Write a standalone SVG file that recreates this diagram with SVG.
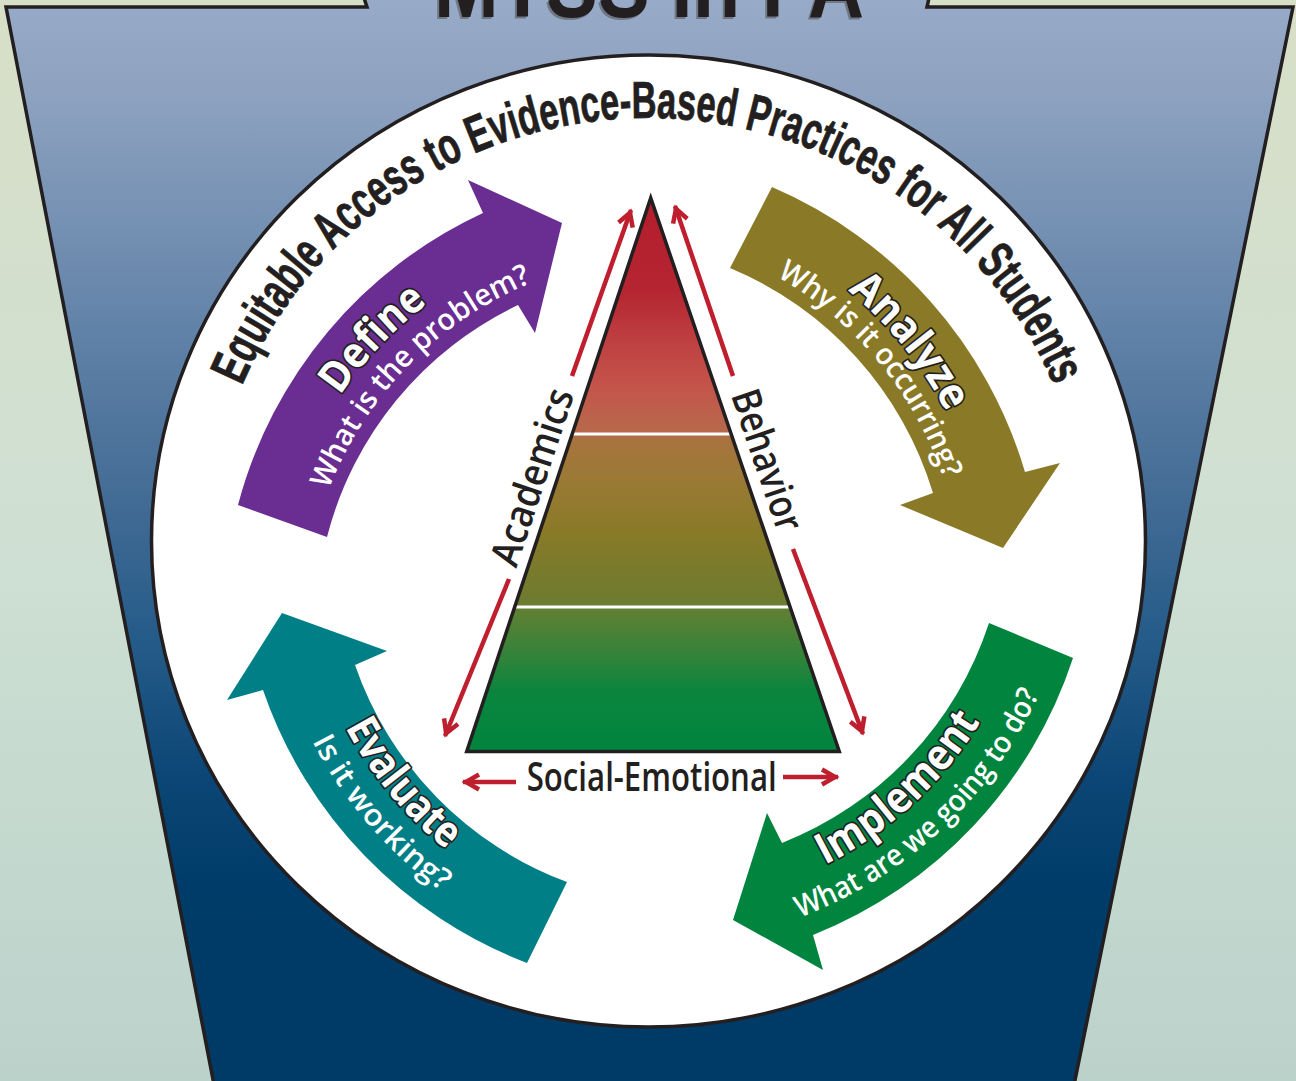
<svg xmlns="http://www.w3.org/2000/svg" width="1296" height="1081" viewBox="0 0 1296 1081">
<defs>
<linearGradient id="bg" x1="0" y1="0" x2="0" y2="1081" gradientUnits="userSpaceOnUse">
<stop offset="0" stop-color="#d8dfc7"/><stop offset="0.5" stop-color="#cfe0d3"/><stop offset="1" stop-color="#bbd2cb"/>
</linearGradient>
<linearGradient id="key" x1="0" y1="0" x2="0" y2="1081" gradientUnits="userSpaceOnUse">
<stop offset="0" stop-color="#97aac7"/><stop offset="0.08" stop-color="#8fa3c1"/><stop offset="0.3" stop-color="#6283a8"/><stop offset="0.45" stop-color="#456d96"/><stop offset="0.6" stop-color="#235a88"/><stop offset="0.72" stop-color="#0b4676"/><stop offset="0.82" stop-color="#003c69"/><stop offset="1" stop-color="#003a66"/>
</linearGradient>
<linearGradient id="pyr" x1="0" y1="197" x2="0" y2="751" gradientUnits="userSpaceOnUse">
<stop offset="0" stop-color="#b31d2c"/><stop offset="0.168" stop-color="#b52531"/><stop offset="0.258" stop-color="#be3f40"/><stop offset="0.348" stop-color="#c4564c"/><stop offset="0.424" stop-color="#b7694a"/><stop offset="0.439" stop-color="#a8733f"/><stop offset="0.51" stop-color="#9a7a35"/><stop offset="0.6" stop-color="#8a7a28"/><stop offset="0.727" stop-color="#6e7b2f"/><stop offset="0.749" stop-color="#5e8034"/><stop offset="0.836" stop-color="#2e833a"/><stop offset="0.89" stop-color="#0b853e"/><stop offset="1" stop-color="#00843e"/>
</linearGradient>
<marker id="chev" viewBox="0 0 22 18" refX="19" refY="9" markerWidth="22" markerHeight="18" markerUnits="userSpaceOnUse" orient="auto" overflow="visible">
<path d="M3,1.5 L16,9 L3,16.5" fill="none" stroke="#be1e2d" stroke-width="4.5"/>
</marker>
<path id="arcTitle" d="M206,560 A442,442 0 0 1 1090,560"/>
<path id="pDefT" d="M272.6,667.4 A401,401 0 0 1 695.5,221.75"/>
<path id="pDefS" d="M305.75,657.8 A367,367 0 0 1 699.2,256.1"/>
<path id="pAnaT" d="M600.9,199.1 A398,398 0 0 1 984.7,672.9"/>
<path id="pAnaS" d="M597.2,228 A369,369 0 0 1 956.8,664.2"/>
<path id="pEvaT" d="M307.5,476.3 A388,388 0 0 0 685.6,935"/>
<path id="pEvaS" d="M270.5,479.2 A424,424 0 0 0 694.9,971"/>
<path id="pImpT" d="M598,903.7 A389,389 0 0 0 1037.6,498.9"/>
<path id="pImpS" d="M596.7,941.8 A429,429 0 0 0 1077.4,493.5"/>
</defs>
<style>
.ttl{font-family:"Open Sans","Liberation Sans",sans-serif;font-weight:700;font-size:43px;fill:#fff;stroke:#231f20;stroke-width:3.5px;paint-order:stroke;stroke-linejoin:round}
.sub{font-family:"Open Sans","Liberation Sans",sans-serif;font-weight:600;font-size:30px;fill:#fff}
.lbl{font-family:"Open Sans","Liberation Sans",sans-serif;font-weight:600;font-size:40px;fill:#231f20}
.red{stroke:#be1e2d;stroke-width:4.5;fill:none;marker-end:url(#chev)}
.ol{stroke:#231f20;stroke-width:3.5}
</style>
<rect id="background" x="0" y="0" width="1296" height="1081" fill="url(#bg)"/>
<g id="keystone">
<path d="M358,-20 L367,7 L6,7 L216,1095 L1072,1095 L1293,7 L927,7 L933,-20 Z" fill="url(#key)" class="ol"/>
</g>
<g id="title">
<text x="647" y="19" text-anchor="middle" font-family="'Liberation Sans',sans-serif" font-weight="700" font-size="92" fill="#58595b" opacity="0.6" textLength="430" lengthAdjust="spacingAndGlyphs">MTSS in PA</text>
<text x="649" y="17" text-anchor="middle" font-family="'Liberation Sans',sans-serif" font-weight="700" font-size="92" fill="#231f20" textLength="430" lengthAdjust="spacingAndGlyphs">MTSS in PA</text>
</g>
<g id="circle">
<ellipse cx="648.5" cy="541" rx="497" ry="486" fill="#fff" class="ol"/>
</g>
<g id="arc-title">
<text font-family="'Liberation Sans',sans-serif" font-weight="700" font-size="52" fill="#231f20" stroke="#231f20" stroke-width="0.8"><textPath href="#arcTitle" startOffset="50%" text-anchor="middle" textLength="1030" lengthAdjust="spacingAndGlyphs">Equitable Access to Evidence-Based Practices for All Students</textPath></text>
</g>
<g id="define">
<path d="M238,505 A448,448 0 0 1 483,213 L468,180 L562,223 L535,333 L518,305 A355,355 0 0 0 327,537 Z" fill="#6a2d91"/>
<text class="ttl"><textPath href="#pDefT" startOffset="50%" text-anchor="middle" textLength="128" lengthAdjust="spacingAndGlyphs">Define</textPath></text>
<text class="sub"><textPath href="#pDefS" startOffset="50%" text-anchor="middle" textLength="298" lengthAdjust="spacingAndGlyphs">What is the problem?</textPath></text>
</g>
<g id="analyze">
<path d="M772,187 A448,448 0 0 1 1025,472 L1060,463 L1003,548 L900,505 L933,493 A355,355 0 0 0 730,268 Z" fill="#8a7a27"/>
<text class="ttl"><textPath href="#pAnaT" startOffset="50%" text-anchor="middle" textLength="158" lengthAdjust="spacingAndGlyphs">Analyze</textPath></text>
<text class="sub"><textPath href="#pAnaS" startOffset="50%" text-anchor="middle" textLength="268" lengthAdjust="spacingAndGlyphs">Why is it occurring?</textPath></text>
</g>
<g id="implement">
<path d="M1073,658 A448,448 0 0 1 813,935 L823,970 L733,920 L767,813 L782,843 A355,355 0 0 0 989,623 Z" fill="#00843e"/>
<text class="ttl"><textPath href="#pImpT" startOffset="50%" text-anchor="middle" textLength="214" lengthAdjust="spacingAndGlyphs">Implement</textPath></text>
<text class="sub"><textPath href="#pImpS" startOffset="50%" text-anchor="middle" textLength="336" lengthAdjust="spacingAndGlyphs">What are we going to do?</textPath></text>
</g>
<g id="evaluate">
<path d="M527,963 A448,448 0 0 1 263,690 L227,700 L282,613 L387,651 L355,665 A355,355 0 0 0 567,882 Z" fill="#007f87"/>
<text class="ttl"><textPath href="#pEvaT" startOffset="50%" text-anchor="middle" textLength="160" lengthAdjust="spacingAndGlyphs">Evaluate</textPath></text>
<text class="sub"><textPath href="#pEvaS" startOffset="50%" text-anchor="middle" textLength="200" lengthAdjust="spacingAndGlyphs">Is it working?</textPath></text>
</g>
<g id="pyramid">
<path d="M650.7,197.9 L839.3,751.4 L466.7,751.4 Z" fill="url(#pyr)"/>
<line x1="572" y1="434" x2="731" y2="434" stroke="#fff" stroke-width="3"/>
<line x1="515" y1="607" x2="790" y2="607" stroke="#fff" stroke-width="3"/>
<path d="M650.7,197.9 L839.3,751.4 L466.7,751.4 Z" fill="none" stroke="#231f20" stroke-width="3.5" stroke-linejoin="miter"/>
</g>
<g id="labels">
<text class="lbl" x="545.4" y="481.4" text-anchor="middle" transform="rotate(-71.6 545.4 481.4)" textLength="184" lengthAdjust="spacingAndGlyphs">Academics</text>
<text class="lbl" x="754.4" y="464.7" text-anchor="middle" transform="rotate(71.2 754.4 464.7)" textLength="147" lengthAdjust="spacingAndGlyphs">Behavior</text>
<text class="lbl" x="651.7" y="791" text-anchor="middle" textLength="250" lengthAdjust="spacingAndGlyphs">Social-Emotional</text>
</g>
<g id="connectors">
<line class="red" x1="572" y1="376" x2="631" y2="210"/>
<line class="red" x1="509" y1="579" x2="445" y2="736"/>
<line class="red" x1="733" y1="376" x2="675" y2="206"/>
<line class="red" x1="793" y1="549" x2="863" y2="734"/>
<line class="red" x1="516" y1="782" x2="463" y2="782"/>
<line class="red" x1="783" y1="777" x2="838" y2="777"/>
</g>
</svg>
